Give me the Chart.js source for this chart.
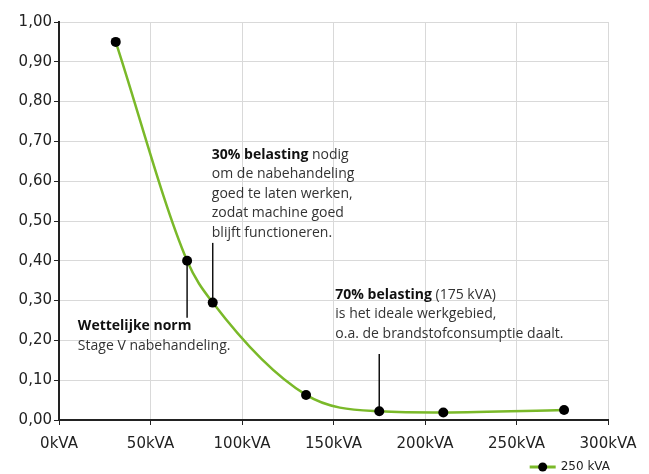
<!DOCTYPE html>
<html>
<head>
<meta charset="utf-8">
<script src="https://cdn.jsdelivr.net/npm/chart.js@4/dist/chart.umd.min.js"></script>
<style>
  html, body { margin: 0; padding: 0; background: #fff; }
  #wrap { width: 649px; height: 474px; }
</style>
</head>
<body>
<div id="wrap"><canvas id="grafiek"></canvas></div>
<script>
// Data (uitgelezen uit de grafiek)
const vermogen = [31, 70, 84, 135, 175, 210, 276];          // kVA
const waarden = [0.95, 0.40, 0.295, 0.063, 0.022, 0.019, 0.025];
const reeksNaam = '250 kVA';
const xTicks = [0, 50, 100, 150, 200, 250, 300];
const yTicks = [0, 0.1, 0.2, 0.3, 0.4, 0.5, 0.6, 0.7, 0.8, 0.9, 1.0];

// Teksten bij de annotaties
const tekst30 = [['30% belasting', ' nodig'], ['', 'om de nabehandeling'], ['', 'goed te laten werken,'], ['', 'zodat machine goed'], ['', 'blijft functioneren.']];
const tekstNorm = [['Wettelijke norm', ''], ['', 'Stage V nabehandeling.']];
const tekst70 = [['70% belasting', ' (175 kVA)'], ['', 'is het ideale werkgebied,'], ['', 'o.a. de brandstofconsumptie daalt.']];

// annotaties: punt-index, lijn tot y, tekstanker (x, y) in data-eenheden
const annotaties = [
  { punt: 2, lijnTot: 0.445, tx: 83.5, ty: 0.667, regels: tekst30 },
  { punt: 1, lijnTot: 0.257, tx: 10.3, ty: 0.236, regels: tekstNorm },
  { punt: 4, lijnTot: 0.166, tx: 151, ty: 0.315, regels: tekst70 }
];

const groen = '#7ab929';
const donker = '#222222';

const annotatiePlugin = {
  id: 'annotaties',
  beforeDatasetsDraw(chart) {
    const { ctx, scales: { x, y } } = chart;
    ctx.save();
    ctx.strokeStyle = '#111';
    ctx.lineWidth = 1.5;
    annotaties.forEach(a => {
      const px = x.getPixelForValue(vermogen[a.punt]);
      ctx.beginPath();
      ctx.moveTo(px, y.getPixelForValue(waarden[a.punt]));
      ctx.lineTo(px, y.getPixelForValue(a.lijnTot));
      ctx.stroke();
    });
    ctx.restore();
  },
  afterDraw(chart) {
    const { ctx, scales: { x, y } } = chart;
    ctx.save();
    ctx.textBaseline = 'middle';
    ctx.textAlign = 'left';
    annotaties.forEach(a => {
      const px = x.getPixelForValue(a.tx);
      const py = y.getPixelForValue(a.ty);
      a.regels.forEach((r, i) => {
        let cx = px;
        const ry = py + i * 19.5;
        if (r[0]) {
          ctx.font = 'bold 14px "Open Sans"';
          ctx.fillStyle = '#111';
          ctx.fillText(r[0], cx, ry);
          cx += ctx.measureText(r[0]).width;
        }
        if (r[1]) {
          ctx.font = '14px "Open Sans"';
          ctx.fillStyle = '#333';
          ctx.fillText(r[1], cx, ry);
        }
      });
    });

    // legenda rechtsonder
    const ds = chart.data.datasets[0];
    ctx.font = '12px "DejaVu Sans"';
    const tw = ctx.measureText(ds.label).width;
    const lx = chart.width - 39 - tw;
    const ly = 467;
    ctx.fillStyle = donker;
    ctx.fillText(ds.label, lx, ly);
    ctx.strokeStyle = groen;
    ctx.lineWidth = 3;
    ctx.beginPath();
    ctx.moveTo(lx - 31, ly);
    ctx.lineTo(lx - 5, ly);
    ctx.stroke();
    ctx.fillStyle = '#000';
    ctx.beginPath();
    ctx.arc(lx - 18, ly, 4.5, 0, Math.PI * 2);
    ctx.fill();
    ctx.restore();
  }
};

new Chart(document.getElementById('grafiek'), {
  type: 'line',
  data: {
    labels: vermogen,
    datasets: [{
      label: reeksNaam,
      data: vermogen.map((v, i) => ({ x: v, y: waarden[i] })),
      borderColor: groen,
      borderWidth: 2.5,
      cubicInterpolationMode: 'monotone',
      pointRadius: 5,
      pointBackgroundColor: '#000',
      pointBorderColor: '#000',
      pointBorderWidth: 0,
      fill: false
    }]
  },
  options: {
    responsive: true,
    maintainAspectRatio: false,
    animation: false,
    layout: { padding: { top: 22, right: 41, left: 0, bottom: 0 } },
    plugins: {
      tooltip: { enabled: false },
      legend: { display: false }
    },
    scales: {
      x: {
        type: 'linear',
        min: 0,
        max: 300,
        afterBuildTicks: (s) => { s.ticks = xTicks.map(v => ({ value: v })); },
        afterFit: (s) => { s.height = 54; },
        grid: { color: '#d9d9d9', tickColor: donker, tickLength: 5, lineWidth: 1 },
        border: { color: donker, width: 2 },
        ticks: {
          color: donker,
          padding: 10,
          maxRotation: 0,
          font: { family: 'DejaVu Sans', size: 15 },
          callback: (v) => v + 'kVA'
        }
      },
      y: {
        min: 0,
        max: 1,
        afterBuildTicks: (s) => { s.ticks = yTicks.map(v => ({ value: v })); },
        afterFit: (s) => { s.width = 59; },
        grid: { color: '#d9d9d9', tickColor: donker, tickLength: 5, lineWidth: 1 },
        border: { color: donker, width: 2 },
        ticks: {
          color: donker,
          padding: 2,
          font: { family: 'DejaVu Sans', size: 15 },
          callback: (v) => v.toFixed(2).replace('.', ',')
        }
      }
    }
  },
  plugins: [annotatiePlugin]
});
</script>
</body>
</html>
